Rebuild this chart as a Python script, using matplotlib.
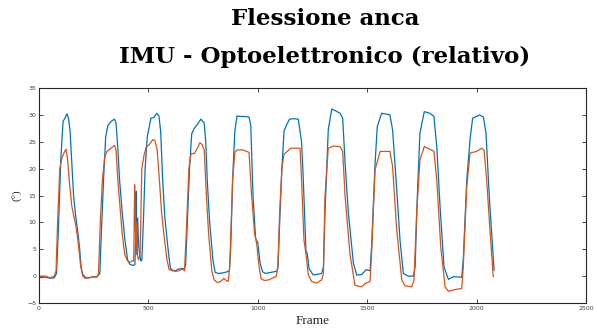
import matplotlib
matplotlib.use("Agg")
import matplotlib.pyplot as plt

# Blue series (IMU)
imu_frames = [0, 30, 50, 70, 80, 88, 100, 110, 120, 128, 135, 142, 150, 158, 168, 178, 186, 193, 200, 215,
              230, 245, 260, 272, 278, 285, 295, 305, 315, 330, 345, 352, 360, 368, 380, 392, 405, 415, 430,
              438, 441, 444, 447, 451, 455, 460, 466, 470, 477, 485, 495, 505, 512, 525, 538, 548, 556, 565,
              575, 590, 600, 610, 625, 635, 650, 665, 670, 678, 688, 698, 710, 725, 740, 755, 762, 770, 780,
              795, 805, 820, 840, 860, 870, 876, 885, 895, 905, 920, 940, 960, 968, 978, 990, 1000, 1010,
              1022, 1035, 1060, 1085, 1092, 1100, 1110, 1120, 1130, 1145, 1165, 1185, 1200, 1208, 1220, 1226,
              1234, 1254, 1292, 1300, 1307, 1322, 1338, 1353, 1376, 1388, 1399, 1414, 1437, 1452, 1475, 1495,
              1513, 1520, 1536, 1546, 1566, 1604, 1616, 1632, 1650, 1665, 1688, 1711, 1719, 1729, 1741, 1761,
              1787, 1805, 1818, 1833, 1851, 1871, 1894, 1932, 1939, 1955, 1970, 1982, 2000, 2013, 2031, 2043,
              2058, 2080]
imu_vals = [-0.3, -0.2, -0.4, -0.3, 0.5, 8, 22, 28.8, 29.5, 30.2, 29.3, 27, 21, 15, 11, 8, 5, 1.5, 0.3, -0.3,
            -0.3, -0.1, -0.2, 0.2, 0.5, 8, 18, 26, 28, 28.8, 29.2, 28.5, 24, 18, 12, 7, 3, 2.2, 2,
            2.1, 6, 15.8, 4, 10.8, 6, 4, 2.8, 3, 10, 20, 26, 28, 29.4, 29.5, 30.3, 29.8, 27, 18,
            11, 5, 1.5, 1.1, 1.0, 1.3, 1.4, 1.4, 2, 10, 20, 26.5, 27.5, 28.3, 29.2, 28.5, 25, 17, 10,
            3, 0.7, 0.5, 0.6, 0.8, 1, 5, 18, 27, 29.8, 29.7, 29.7, 29.6, 28, 15, 7, 6.2, 2.5,
            0.8, 0.5, 0.7, 0.9, 1.5, 10, 20, 27, 28, 29.2, 29.3, 29.2, 25, 17.9, 4.8, 4.2,
            1.4, 0.2, 0.5, 1.7, 11.7, 27.2, 31.1, 30.8, 30.3, 29.4, 21, 11.7, 2.4, 0.2, 0.3, 1.2,
            1, 5.5, 21, 27.8, 30.3, 30, 27.2, 17.9, 6.7, 0.5, 0, 0, 1.7, 14.8, 26.6, 30.6,
            30.3, 29.7, 24.1, 12.9, 1.7, -0.6, -0.1, -0.2, 3, 17.9, 25.4, 29.4, 29.7, 30, 29.6, 26.6,
            14.8, 1.1]

# Orange series (Optoelettronico)
opto_frames = [0, 30, 50, 70, 78, 85, 95, 105, 115, 123, 130, 140, 150, 160, 170, 180, 190, 200, 210, 230,
               250, 265, 272, 280, 290, 300, 310, 320, 335, 345, 352, 360, 370, 380, 392, 405, 418, 428, 433,
               437, 440, 443, 447, 450, 455, 462, 470, 480, 490, 505, 520, 530, 540, 550, 560, 570, 585, 595,
               610, 625, 640, 655, 665, 673, 685, 695, 710, 720, 735, 745, 755, 765, 775, 790, 800, 815, 830,
               845, 855, 865, 872, 885, 895, 905, 930, 950, 960, 970, 985, 995, 1005, 1015, 1030, 1050, 1070,
               1085, 1092, 1100, 1110, 1120, 1135, 1150, 1170, 1193, 1200, 1211, 1220, 1231, 1246, 1269, 1292,
               1300, 1307, 1322, 1345, 1376, 1388, 1399, 1421, 1444, 1475, 1490, 1513, 1520, 1536, 1559, 1581,
               1604, 1616, 1635, 1658, 1673, 1703, 1714, 1726, 1741, 1761, 1787, 1805, 1818, 1836, 1856, 1871,
               1901, 1932, 1939, 1955, 1970, 2000, 2023, 2034, 2046, 2061, 2076]
opto_vals = [0, 0, -0.3, 0, 1, 10, 20, 22, 23, 23.6, 22, 17, 13, 11, 9, 6, 2, 0, -0.4, -0.3,
             -0.1, -0.2, 0.5, 10, 18, 22, 23.2, 23.5, 24, 24.3, 23.5, 18, 13, 8, 4, 2.8, 2.6, 2.9, 2.8,
             17, 10, 5, 10, 4, 3, 4, 20, 22.5, 24, 24.5, 25.4, 25.2, 23.5, 18, 12, 8, 3, 1.2,
             1, 0.9, 1, 1.3, 1.0, 8, 20, 22.8, 22.8, 23.5, 24.8, 24.5, 23.5, 15, 8, 1, -0.7, -1.2, -1,
             -0.4, -0.8, -1, 2, 18, 23, 23.5, 23.5, 23.2, 23, 16, 8, 6, 2, -0.5, -0.8, -0.7, -0.3,
             0, 2, 12, 20, 22.7, 23.2, 23.8, 23.8, 23.8, 17.9, 6.7, 4.2, 0.2, -1, -1.3, -0.7,
             0.5, 14.8, 23.8, 24.2, 24.1, 23.2, 14.8, 4.2, -1.7, -2, -1.4, -1, 4.2, 19.8, 23.2, 23.2,
             23.2, 20.4, 8.6, -0.7, -1.8, -2, -0.7, 11.7, 21.6, 24.1, 23.6, 23.2, 17.9, 5.5, -2, -2.8,
             -2.5, -2.3, 1.7, 16.6, 22.9, 23.2, 23.8, 23.4, 17.9, 8.6, -0.1]

x_ticks = [0, 500, 1000, 1500, 2000, 2500]
y_ticks = [-5, 0, 5, 10, 15, 20, 25, 30, 35]

title_lines = ["Flessione anca", "IMU - Optoelettronico (relativo)"]
x_label = "Frame"
y_label = "(°)"

fig = plt.figure(figsize=(5.97, 3.31), dpi=100)
ax = fig.add_axes([39 / 597, 1 - 303 / 331, (586 - 39) / 597, (303 - 88) / 331])

ax.plot(imu_frames, imu_vals, color="#0072BD", lw=0.9)
ax.plot(opto_frames, opto_vals, color="#D95319", lw=0.9)

ax.set_xlim(0, 2500)
ax.set_ylim(-5, 35)
ax.set_xticks(x_ticks)
ax.set_yticks(y_ticks)
ax.tick_params(direction="in", length=3, width=0.6, labelsize=4.5, labelcolor="#404040",
               top=True, right=True, pad=2, colors="#262626")
for s in ax.spines.values():
    s.set_linewidth(0.8)
    s.set_color("#262626")

ax.set_xlabel(x_label, family="Liberation Serif", fontsize=9.5, labelpad=3, color="#262626")
ax.set_ylabel(y_label, family="Liberation Serif", fontsize=8, labelpad=3, color="#262626")

fig.text(325 / 597, 1 - 19 / 331, title_lines[0], ha="center", va="center",
         family="DejaVu Serif", fontweight="bold", fontsize=16.5)
fig.text(325 / 597, 1 - 57 / 331, title_lines[1], ha="center", va="center",
         family="DejaVu Serif", fontweight="bold", fontsize=16.5)

fig.savefig("out.png", dpi=100)
